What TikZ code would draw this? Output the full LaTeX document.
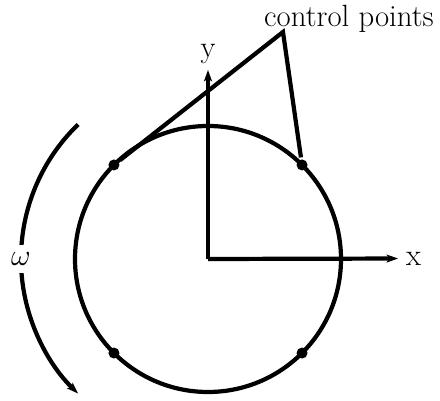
\documentclass[tikz,border=0pt]{standalone}
\usetikzlibrary{arrows.meta}
\tikzset{cpoint/.style={circle, fill, inner sep=0pt, minimum size=0.22cm}}
\begin{document}
\begin{tikzpicture}[>={Stealth[length=6.5pt, width=4.5pt, inset=1.5pt]}, x=0.02cm, y=0.02cm, line width=2.4pt, font=\fontsize{17.5}{21}\selectfont]
\useasboundingbox (-208,-142) rectangle (232,259);
\coordinate (o) at (0,0);
\draw (o) circle[radius=133];
\node[cpoint] (p1) at (45:133) {};
\node[cpoint] (p2) at (135:133) {};
\node[cpoint] (p3) at (225:133) {};
\node[cpoint] (p4) at (315:133) {};
\node (x) at (205.5,0.5) {x};
\node[inner sep=2pt] (y) at (0,204.5) {y};
\draw[->] (o) -- (x);
\draw[->] (o) -- (y);
\node[anchor=base] (cp) at (141,232) {control points};
\coordinate (apex) at (75,227);
\draw (p2) -- (apex) -- (p1);
\draw[->] (134:187) arc[start angle=134, end angle=226, radius=187];
\node[fill=white, inner sep=4pt] (w) at (180:187) {$\omega$};
\end{tikzpicture}
\end{document}
